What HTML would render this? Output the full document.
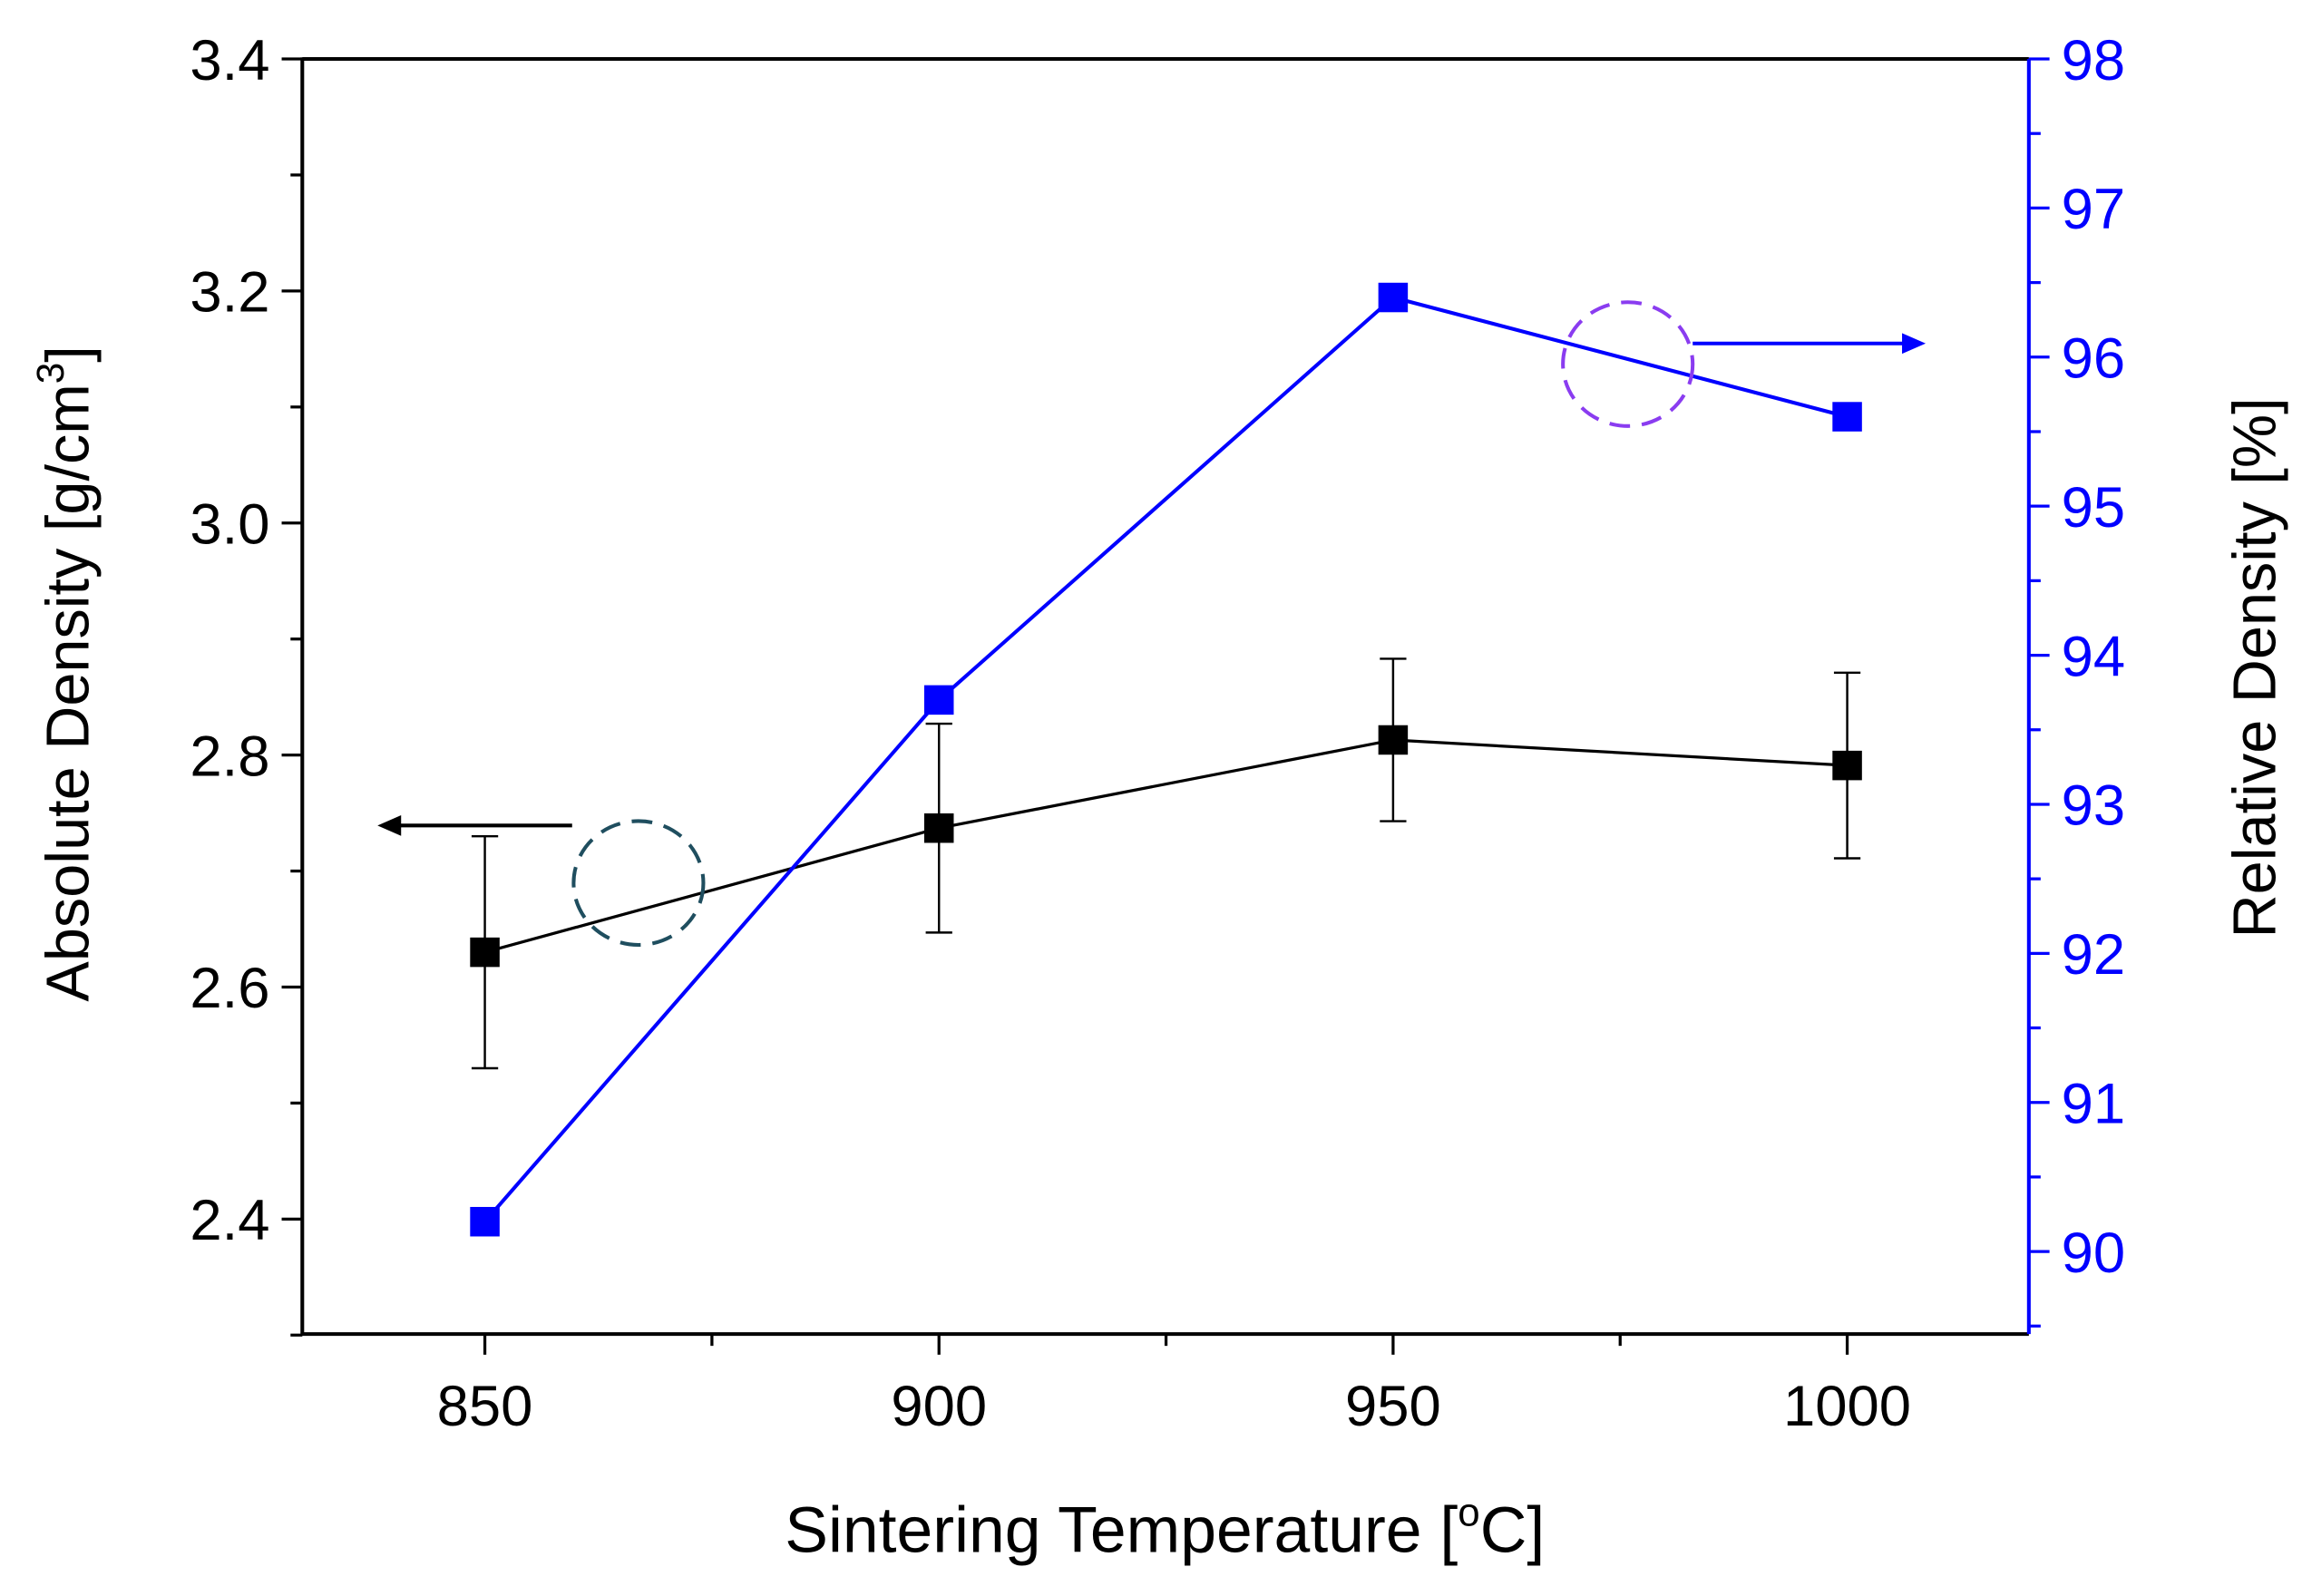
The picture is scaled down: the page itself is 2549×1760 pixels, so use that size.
<!DOCTYPE html>
<html><head><meta charset="utf-8"><style>
html,body{margin:0;padding:0;background:#fff;}
svg{display:block;font-family:"Liberation Sans",Arial,sans-serif;}
</style></head><body>
<svg id="chart" width="2549" height="1760" viewBox="0 0 1568 1082.7" xmlns="http://www.w3.org/2000/svg">
<g id="axes"></g>
<g id="marks"></g>
<text x="790" y="1053" font-size="44" text-anchor="middle">Sintering Temperature [<tspan dy="-18" font-size="27">o</tspan><tspan dy="18">C]</tspan></text>
<text transform="translate(60,457) rotate(-90)" font-size="41" text-anchor="middle">Absolute Density [g/cm<tspan dy="-17" font-size="26">3</tspan><tspan dy="17">]</tspan></text>
<text transform="translate(1543,453) rotate(-90)" font-size="41" text-anchor="middle">Relative Density [%]</text>
</svg>
<script>
const temps=[850,900,950,1000];
const absDensity=[2.63,2.737,2.813,2.791];
const absErr=[0.10,0.09,0.07,0.08];
const relDensity=[90.2,93.7,96.4,95.6];
const xTicks=[850,900,950,1000];
const leftTicks=[2.4,2.6,2.8,3.0,3.2,3.4];
const rightTicks=[90,91,92,93,94,95,96,97,98];

const L=205,R=1376,T=40,B=905;
const X=v=>L+(v-829.9)/(1020-829.9)*(R-L);
const YL=v=>827+(v-2.4)*(40-827)/1.0;
const YR=v=>849+(v-90)*(40-849)/8;
const NS='http://www.w3.org/2000/svg';
const axes=document.getElementById('axes'),marks=document.getElementById('marks');
function mk(tag,attrs,parent){const e=document.createElementNS(NS,tag);for(const k in attrs)e.setAttribute(k,attrs[k]);parent.appendChild(e);return e;}

let e;
e=mk('line',{x1:L,y1:T,x2:R,y2:T,stroke:'#000','stroke-width':2.5},axes);


e=mk('line',{x1:L,y1:T-1,x2:L,y2:B,stroke:'#000','stroke-width':2.5},axes);


e=mk('line',{x1:L-1,y1:B,x2:R,y2:B,stroke:'#000','stroke-width':2.5},axes);


e=mk('line',{x1:R,y1:T,x2:R,y2:B,stroke:'#0000ff','stroke-width':2.5},axes);



xTicks.forEach(v=>{
  e=mk('line',{x1:X(v),y1:B,x2:X(v),y2:B+14,stroke:'#000','stroke-width':2},axes);
  
  
  e=mk('text',{x:X(v),y:B+62,'font-size':39,'text-anchor':'middle'},axes);e.textContent=v;
  
  
});
for(let v=875;v<1020;v+=50){
  e=mk('line',{x1:X(v),y1:B,x2:X(v),y2:B+8,stroke:'#000','stroke-width':2},axes);
  
  
}
leftTicks.forEach(v=>{
  e=mk('line',{x1:L-14,y1:YL(v),x2:L,y2:YL(v),stroke:'#000','stroke-width':2},axes);
  
  
  e=mk('text',{x:L-22,y:YL(v)+14,'font-size':39,'text-anchor':'end'},axes);e.textContent=v.toFixed(1);
  
  
});
for(let v=2.3;v<3.41;v+=0.2){
  e=mk('line',{x1:L-8,y1:YL(v),x2:L,y2:YL(v),stroke:'#000','stroke-width':2},axes);
  
  
}
rightTicks.forEach(v=>{
  e=mk('line',{x1:R,y1:YR(v),x2:R+14,y2:YR(v),stroke:'#0000ff','stroke-width':2},axes);
  
  
  e=mk('text',{x:R+22,y:YR(v)+14,'font-size':39,fill:'#0000ff'},axes);e.textContent=v;
  
  
});
for(let v=89.5;v<98;v+=1){
  e=mk('line',{x1:R,y1:YR(v),x2:R+8,y2:YR(v),stroke:'#0000ff','stroke-width':2},axes);
  
  
}

e=mk('polyline',{points:temps.map((t,i)=>X(t)+','+YL(absDensity[i])).join(' '),fill:'none',stroke:'#000','stroke-width':2},marks);


temps.forEach((t,i)=>{
  const x=X(t),y1=YL(absDensity[i]+absErr[i]),y2=YL(absDensity[i]-absErr[i]);
  e=mk('path',{d:`M${x},${y1}V${y2}M${x-9},${y1}H${x+9}M${x-9},${y2}H${x+9}`,stroke:'#000','stroke-width':1.5,fill:'none'},marks);
  
  
  e=mk('rect',{x:x-10,y:YL(absDensity[i])-10,width:20,height:20,fill:'#000'},marks);
  
  
});
e=mk('polyline',{points:temps.map((t,i)=>X(t)+','+YR(relDensity[i])).join(' '),fill:'none',stroke:'#0000ff','stroke-width':2.5},marks);


temps.forEach((t,i)=>{
  e=mk('rect',{x:X(t)-10,y:YR(relDensity[i])-10,width:20,height:20,fill:'#0000ff'},marks);
  
  
});
e=mk('ellipse',{cx:433,cy:599,rx:44,ry:42,fill:'none',stroke:'#1f4e5f','stroke-width':2.5,'stroke-dasharray':'14 8'},marks);


e=mk('path',{d:'M388,560H270',stroke:'#000','stroke-width':2.5},marks);


e=mk('path',{d:'M256,560L272,553L272,567Z',fill:'#000'},marks);


e=mk('ellipse',{cx:1104,cy:247,rx:44,ry:42,fill:'none',stroke:'#8a3cf0','stroke-width':2.5,'stroke-dasharray':'14 8'},marks);


e=mk('path',{d:'M1148,233H1292',stroke:'#0000ff','stroke-width':2.5},marks);


e=mk('path',{d:'M1306,233L1290,226L1290,240Z',fill:'#0000ff'},marks);


</script>
</body></html>
